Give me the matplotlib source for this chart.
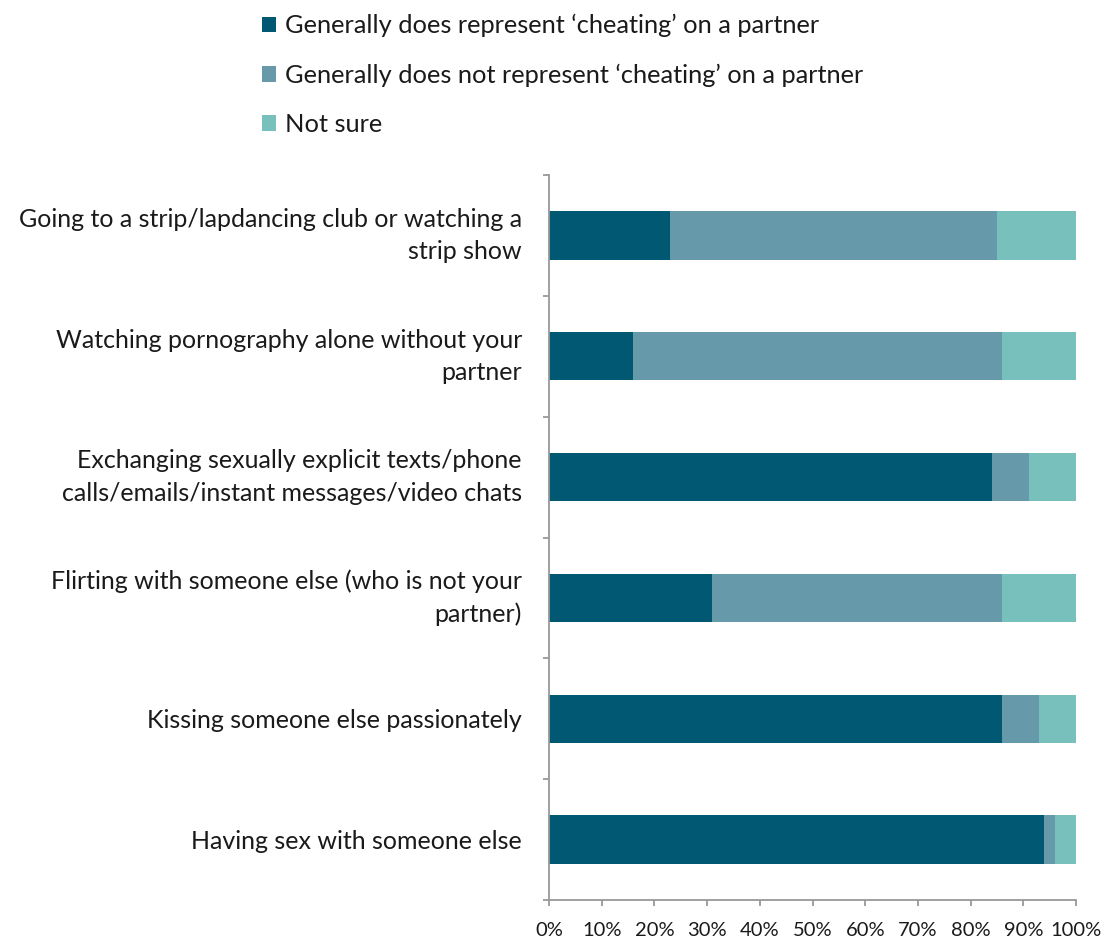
import numpy as np
import matplotlib.pyplot as plt
from matplotlib.patches import Patch

categories = [
    "Going to a strip/lapdancing club or watching a\nstrip show",
    "Watching pornography alone without your\npartner",
    "Exchanging sexually explicit texts/phone\ncalls/emails/instant messages/video chats",
    "Flirting with someone else (who is not your\npartner)",
    "Kissing someone else passionately",
    "Having sex with someone else",
]
does_cheat = [23, 16, 84, 31, 86, 94]
not_cheat = [62, 70, 7, 55, 7, 2]
not_sure = [15, 14, 9, 14, 7, 4]

series = ["Generally does represent \u2018cheating\u2019 on a partner",
          "Generally does not represent \u2018cheating\u2019 on a partner",
          "Not sure"]
colors = ["#005872", "#6699aa", "#77c0bc"]

plt.rcParams["font.family"] = ["Lato", "DejaVu Sans"]

W, H = 1101, 940
fig = plt.figure(figsize=(W / 100, H / 100), dpi=100)
ax = fig.add_axes([549 / W, 40 / H, 527 / W, 725 / H])

y = np.arange(len(categories))
left = np.zeros(len(categories))
for vals, c, name in zip([does_cheat, not_cheat, not_sure], colors, series):
    ax.barh(y, vals, left=left, height=0.4, color=c, label=name)
    left += np.array(vals)

ax.set_xlim(0, 100)
ax.set_ylim(len(categories) - 0.5, -0.5)

for s in ["top", "right"]:
    ax.spines[s].set_visible(False)
for s in ["left", "bottom"]:
    ax.spines[s].set_color("#999999")
    ax.spines[s].set_linewidth(1.3)

ax.set_xticks(np.arange(0, 101, 10))
ax.set_xticklabels([f"{v}%" for v in range(0, 101, 10)])
ax.tick_params(axis="x", length=4.5, width=1.3, color="#999999",
               labelsize=14.5, pad=11, labelcolor="#1a1a1a")

ax.set_yticks(y)
ax.set_yticklabels(categories, fontsize=18, linespacing=1.5, color="#1a1a1a")
for lbl in ax.get_yticklabels():
    if "\n" in lbl.get_text():
        lbl.set_va("center")
ax.tick_params(axis="y", which="major", length=0, pad=19.5)
ax.set_yticks(np.arange(-0.5, len(categories)), minor=True)
ax.tick_params(axis="y", which="minor", length=4.5, width=1.3, color="#999999")

handles = [Patch(facecolor=c, label=n) for c, n in zip(colors, series)]
fig.legend(handles=handles, loc="upper left", bbox_to_anchor=(262 / W, 1 - 14 / H),
           frameon=False, fontsize=18.3, handlelength=0.55, handleheight=0.55,
           handletextpad=0.35, labelspacing=1.03, borderpad=0, borderaxespad=0,
           labelcolor="#1a1a1a")

fig.savefig("out.png", dpi=100)
